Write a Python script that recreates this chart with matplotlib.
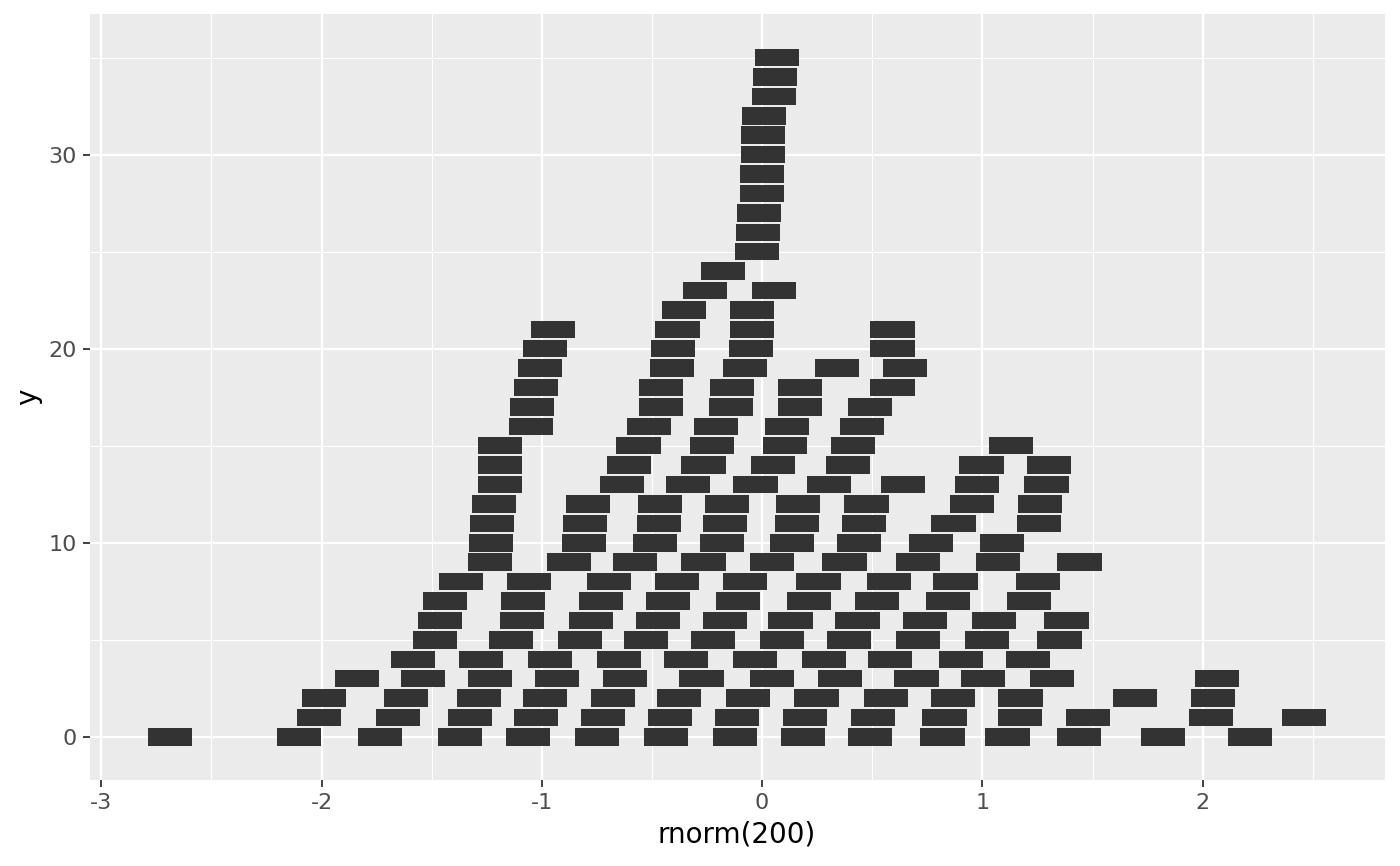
import numpy as np
import matplotlib
matplotlib.use("Agg")
import matplotlib.pyplot as plt

plt.rcParams["axes.unicode_minus"] = False

# tile centres, one list per row (y value = row index)
rows = [
    [-2.69, -2.104, -1.736, -1.373, -1.064, -0.751, -0.438, -0.125, 0.184, 0.488, 0.819, 1.114, 1.437, 1.818, 2.213],
    [-2.013, -1.655, -1.328, -1.028, -0.724, -0.420, -0.116, 0.193, 0.502, 0.828, 1.169, 1.478, 2.040, 2.458],
    [-1.990, -1.618, -1.287, -0.987, -0.679, -0.379, -0.066, 0.247, 0.561, 0.865, 1.173, 1.691, 2.049],
    [-1.841, -1.541, -1.237, -0.933, -0.624, -0.275, 0.043, 0.352, 0.701, 1.001, 1.314, 2.063],
    [-1.586, -1.278, -0.965, -0.651, -0.347, -0.034, 0.279, 0.579, 0.901, 1.205],
    [-1.487, -1.142, -0.828, -0.529, -0.225, 0.089, 0.393, 0.706, 1.019, 1.350],
    [-1.464, -1.092, -0.778, -0.474, -0.170, 0.129, 0.433, 0.738, 1.051, 1.382],
    [-1.441, -1.087, -0.733, -0.429, -0.111, 0.211, 0.520, 0.842, 1.210],
    [-1.369, -1.060, -0.697, -0.388, -0.079, 0.256, 0.574, 0.878, 1.251],
    [-1.237, -0.878, -0.579, -0.266, 0.043, 0.374, 0.706, 1.069, 1.441],
    [-1.232, -0.810, -0.488, -0.184, 0.134, 0.438, 0.765, 1.087],
    [-1.228, -0.806, -0.470, -0.170, 0.157, 0.461, 0.869, 1.255],
    [-1.219, -0.792, -0.465, -0.161, 0.161, 0.474, 0.951, 1.260],
    [-1.192, -0.638, -0.338, -0.030, 0.302, 0.638, 0.974, 1.291],
    [-1.192, -0.606, -0.266, 0.048, 0.388, 0.996, 1.301],
    [-1.192, -0.561, -0.229, 0.102, 0.411, 1.128],
    [-1.051, -0.515, -0.211, 0.111, 0.452],
    [-1.046, -0.461, -0.143, 0.170, 0.488],
    [-1.028, -0.461, -0.138, 0.170, 0.592],
    [-1.010, -0.411, -0.079, 0.338, 0.647],
    [-0.987, -0.406, -0.052, 0.592],
    [-0.951, -0.384, -0.048, 0.592],
    [-0.356, -0.048],
    [-0.261, 0.052],
    [-0.179],
    [-0.025],
    [-0.020],
    [-0.016],
    [-0.002],
    [-0.002],
    [0.002],
    [0.002],
    [0.007],
    [0.052],
    [0.057],
    [0.066],
]

x = []
y = []
for i, r in enumerate(rows):
    x += r
    y += [i] * len(r)
x = np.array(x)
y = np.array(y)

fig = plt.figure(figsize=(14, 8.66), dpi=100)
ax = fig.add_axes([0.064, 0.0993, 0.925, 0.884])
ax.set_facecolor("#EBEBEB")

ax.bar(x, 0.9, width=0.2, bottom=y - 0.45, color="#333333", zorder=3)

ax.set_xlim(-3.053, 2.826)
ax.set_ylim(-2.22, 37.22)
ax.set_xticks([-3, -2, -1, 0, 1, 2])
ax.set_xticks([-2.5, -1.5, -0.5, 0.5, 1.5, 2.5], minor=True)
ax.set_yticks([0, 10, 20, 30])
ax.set_yticks([5, 15, 25, 35], minor=True)

ax.grid(which="major", color="white", linewidth=1.6, zorder=1)
ax.grid(which="minor", color="white", linewidth=0.8, zorder=1)
ax.set_axisbelow(True)
for s in ax.spines.values():
    s.set_visible(False)

ax.tick_params(which="major", length=5, width=1.3, color="#333333",
               labelsize=16, labelcolor="#4D4D4D", pad=4)
ax.tick_params(which="minor", length=0)

ax.set_xlabel("rnorm(200)", fontsize=20, labelpad=6)
ax.set_ylabel("y", fontsize=20, labelpad=5)

fig.savefig("out.png", dpi=100)
